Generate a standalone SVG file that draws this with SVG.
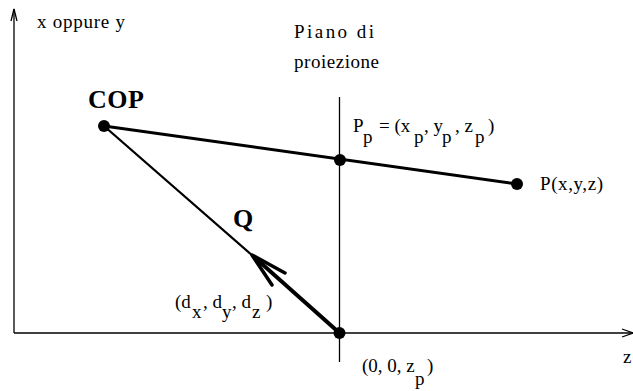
<svg xmlns="http://www.w3.org/2000/svg" width="633" height="391" viewBox="0 0 633 391">
<style>
text{font-family:"Liberation Serif","Times New Roman",serif;font-size:19px;fill:#000}
.b{font-weight:bold;font-size:26px}
.ax{stroke:#000;stroke-width:1.3;fill:none}
.dot{fill:#000}
</style>
<rect width="633" height="391" fill="#fff"/>
<g id="axes">
<line class="ax" x1="14" y1="333" x2="14" y2="9"/>
<polyline class="ax" points="11,21 14,9 17,21"/>
<line class="ax" x1="14" y1="333" x2="633" y2="333"/>
<polyline class="ax" points="622,329 633,333 622,337"/>
<text x="37" y="28" textLength="88">x oppure y</text>
<text x="623" y="363">z</text>
</g>
<g id="plane">
<line class="ax" x1="339.5" y1="97" x2="339.5" y2="362"/>
<text x="294" y="38" textLength="80">Piano di</text>
<text x="294" y="68" textLength="85">proiezione</text>
</g>
<g id="connectors">
<line x1="104" y1="126" x2="517" y2="184" stroke="#000" stroke-width="3"/>
<line x1="104" y1="126" x2="253" y2="256" stroke="#000" stroke-width="2.3"/>
<line x1="339.5" y1="333" x2="253" y2="256" stroke="#000" stroke-width="4"/>
<polyline points="285,273 252,255 272,285" fill="none" stroke="#000" stroke-width="3.5" stroke-linecap="round" stroke-linejoin="round"/>
</g>
<g id="COP">
<circle class="dot" cx="104" cy="126" r="6"/>
<text class="b" x="88" y="108" textLength="56">COP</text>
</g>
<g id="Pp">
<circle class="dot" cx="340" cy="160" r="6"/>
<text x="353" y="132">P</text>
<text x="363" y="143">p</text>
<text x="379" y="132">= (x</text>
<text x="414" y="143">p</text>
<text x="424" y="132">, y</text>
<text x="442" y="143">p</text>
<text x="455" y="132">, z</text>
<text x="475" y="143">p</text>
<text x="488" y="132">)</text>
</g>
<g id="P">
<circle class="dot" cx="517" cy="184" r="6"/>
<text x="540" y="190" textLength="63">P(x,y,z)</text>
</g>
<g id="Q">
<text class="b" x="233" y="227">Q</text>
<text x="175" y="308">(d</text>
<text x="192" y="318">x</text>
<text x="203" y="308">, d</text>
<text x="222" y="318">y</text>
<text x="232" y="308">, d</text>
<text x="252" y="318">z</text>
<text x="266" y="308">)</text>
</g>
<g id="origin">
<circle class="dot" cx="339.5" cy="333" r="6"/>
<text x="362" y="372">(0, 0, z</text>
<text x="415" y="385">p</text>
<text x="427" y="372">)</text>
</g>
</svg>
